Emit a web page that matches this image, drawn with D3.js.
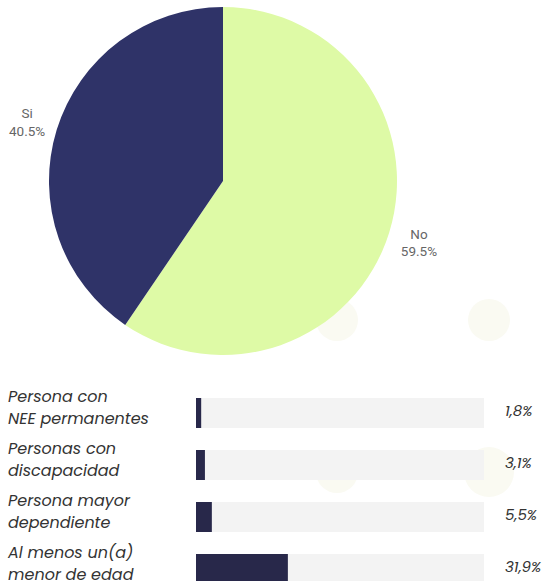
<!DOCTYPE html>
<html><head><meta charset="utf-8">
<script src="https://cdn.jsdelivr.net/npm/d3@7"></script>
<style>
html,body{margin:0;padding:0;background:#fff;}
svg{display:block;}
</style></head>
<body>
<svg id="c" width="545" height="581"></svg>
<script>
const pieLabels = ["No", "Si"];
const pieValues = [59.5, 40.5];
const pieColors = ["#defaa6", "#2f3368"];

const barCategories = [
  ["Persona con", "NEE permanentes"],
  ["Personas con", "discapacidad"],
  ["Persona mayor", "dependiente"],
  ["Al menos un(a)", "menor de edad"]
];
const barValues = [1.8, 3.1, 5.5, 31.9];
const barValueLabels = ["1,8%", "3,1%", "5,5%", "31,9%"];

const decoCircles = [[337,320,21],[489,320,21],[337,472,21],[489,472,25]];

const svg = d3.select("#c");

svg.selectAll("circle.deco").data(decoCircles).enter().append("circle")
  .attr("cx", d=>d[0]).attr("cy", d=>d[1]).attr("r", d=>d[2])
  .attr("fill", "#fafaf2");

// pie
const cx = 223, cy = 181, r = 174;
const pie = d3.pie().sort(null).value(d=>d);
const arcs = pie(pieValues);
const arc = d3.arc().innerRadius(0).outerRadius(r);
const g = svg.append("g").attr("transform", `translate(${cx},${cy})`);
g.selectAll("path").data(arcs).enter().append("path")
  .attr("d", arc).attr("fill", (d,i)=>pieColors[i]);
const labelArc = d3.arc().innerRadius(205).outerRadius(205);
const lab = g.selectAll("text").data(arcs).enter().append("text")
  .attr("transform", d=>`translate(${labelArc.centroid(d)})`)
  .attr("text-anchor","middle")
  .style("font-family","Roboto, 'Noto Sans', sans-serif")
  .style("font-size","13.5px").attr("fill","#666");
lab.append("tspan").attr("x",0).attr("dy","-0.2em").text((d,i)=>pieLabels[i]);
lab.append("tspan").attr("x",0).attr("dy","1.3em").text((d,i)=>pieValues[i].toFixed(1)+"%");

// bars
const bh = 30, step = 52;
const x = d3.scaleLinear().domain([0,100]).range([196,484]);
const y = d3.scaleBand().domain(d3.range(barValues.length))
  .range([398, 398 + step*(barValues.length-1) + bh])
  .paddingInner((step-bh)/step).paddingOuter(0);
const bg = svg.append("g");
bg.selectAll("rect.track").data(barValues).enter().append("rect")
  .attr("x", x(0)).attr("y", (d,i)=>y(i)).attr("width", x(100)-x(0)).attr("height", y.bandwidth())
  .attr("fill", "#f3f3f3");
bg.selectAll("rect.bar").data(barValues).enter().append("rect")
  .attr("x", x(0)).attr("y", (d,i)=>y(i)).attr("width", d=>x(d)-x(0)).attr("height", y.bandwidth())
  .attr("fill", "#28284a");
const font = "Poppins, 'Noto Sans', 'Open Sans', sans-serif";
const cl = bg.selectAll("text.cat").data(barCategories).enter().append("text")
  .attr("y", (d,i)=>y(i)+4)
  .style("font-family", font).style("font-style","italic").style("font-size","16px")
  .attr("fill","#333");
cl.append("tspan").attr("x",8).attr("dy","0").text(d=>d[0]);
cl.append("tspan").attr("x",8).attr("dy","22").text(d=>d[1]);
bg.selectAll("text.val").data(barValueLabels).enter().append("text")
  .attr("x", 505).attr("y", (d,i)=>y(i)+y.bandwidth()/2+3)
  .style("font-family", font).style("font-style","italic").style("font-size","15px")
  .attr("fill","#333").text(d=>d);
</script>
</body></html>
